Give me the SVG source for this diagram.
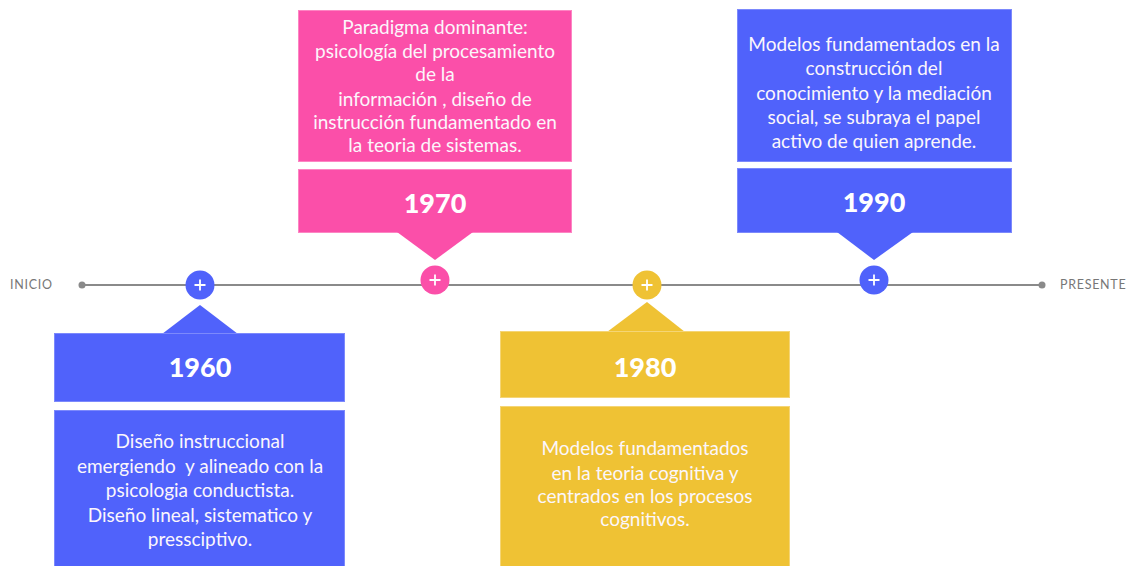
<svg xmlns="http://www.w3.org/2000/svg" width="1138" height="566" viewBox="0 0 1138 566">
<style>
.blue{fill:#5062fb}
.pink{fill:#fb4fa9}
.yellow{fill:#efc234}
.bs{stroke:#7c89fc;stroke-width:1}
.ps{stroke:#fd85c3;stroke-width:1}
.ys{stroke:#f5d575;stroke-width:1}
.body{font-family:Lato,"Open Sans",sans-serif;font-size:19px;fill:#fbf6fb;text-anchor:middle;white-space:pre}
.title{font-family:Lato,"Open Sans",sans-serif;font-size:27px;font-weight:900;fill:#ffffff;text-anchor:middle}
.lbl{font-family:Lato,"Open Sans",sans-serif;font-size:12.5px;fill:#777777;letter-spacing:0.7px}
.plus{stroke:#ffffff;stroke-width:1.8;fill:none}
</style>
<rect width="1138" height="566" fill="#ffffff"/>
<g id="connectors">
<line x1="82" y1="285" x2="1042" y2="285" stroke="#8a8a8a" stroke-width="2"/>
<circle cx="82" cy="285" r="3.5" fill="#8a8a8a"/>
<circle cx="1042" cy="285" r="3.5" fill="#8a8a8a"/>
</g>
<g id="inicio"><text class="lbl" x="10" y="289">INICIO</text></g>
<g id="presente"><text class="lbl" x="1060" y="289">PRESENTE</text></g>
<g id="n1960">
<circle class="blue" cx="200" cy="285" r="14.5"/>
<path class="plus" d="M194.5 285H205.5M200 279.5V290.5"/>
<polygon class="blue" points="162,334 200,305 238,334"/>
<rect class="blue bs" x="54.5" y="333.5" width="290" height="68"/>
<text class="title" x="200" y="377">1960</text>
<rect class="blue bs" x="54.5" y="410.5" width="290" height="160"/>
<text class="body" x="200" y="448">Diseño instruccional</text>
<text class="body" x="200" y="472.5">emergiendo  y alineado con la</text>
<text class="body" x="200" y="497">psicologia conductista.</text>
<text class="body" x="200" y="521.5">Diseño lineal, sistematico y</text>
<text class="body" x="200" y="546">pressciptivo.</text>
</g>
<g id="n1970">
<rect class="pink ps" x="298.5" y="10.5" width="273" height="151"/>
<text class="body" x="435" y="34">Paradigma dominante:</text>
<text class="body" x="435" y="57.5">psicología del procesamiento</text>
<text class="body" x="435" y="81">de la</text>
<text class="body" x="435" y="105.5">información , diseño de</text>
<text class="body" x="435" y="129">instrucción fundamentado en</text>
<text class="body" x="435" y="152">la teoria de sistemas.</text>
<rect class="pink ps" x="298.5" y="169.5" width="273" height="63"/>
<text class="title" x="435" y="213">1970</text>
<polygon class="pink" points="397,232 435,260 473,232"/>
<circle class="pink" cx="435" cy="280" r="14.5"/>
<path class="plus" d="M429.5 280H440.5M435 274.5V285.5"/>
</g>
<g id="n1980">
<circle class="yellow" cx="647" cy="285" r="14.5"/>
<path class="plus" d="M641.5 285H652.5M647 279.5V290.5"/>
<polygon class="yellow" points="607,332 647,302 685,332"/>
<rect class="yellow ys" x="500.5" y="331.5" width="289" height="66"/>
<text class="title" x="645" y="377">1980</text>
<rect class="yellow ys" x="500.5" y="406.5" width="289" height="164"/>
<text class="body" x="645" y="455">Modelos fundamentados</text>
<text class="body" x="645" y="479.5">en la teoria cognitiva y</text>
<text class="body" x="645" y="503">centrados en los procesos</text>
<text class="body" x="645" y="526">cognitivos.</text>
</g>
<g id="n1990">
<rect class="blue bs" x="737.5" y="9.5" width="274" height="152"/>
<text class="body" x="874" y="51">Modelos fundamentados en la</text>
<text class="body" x="874" y="75">construcción del</text>
<text class="body" x="874" y="99.5">conocimiento y la mediación</text>
<text class="body" x="874" y="123.5">social, se subraya el papel</text>
<text class="body" x="874" y="147.5">activo de quien aprende.</text>
<rect class="blue bs" x="737.5" y="168.5" width="274" height="64"/>
<text class="title" x="874" y="212">1990</text>
<polygon class="blue" points="837,232 874,260 913,232"/>
<circle class="blue" cx="874" cy="280" r="14.5"/>
<path class="plus" d="M868.5 280H879.5M874 274.5V285.5"/>
</g>
</svg>
